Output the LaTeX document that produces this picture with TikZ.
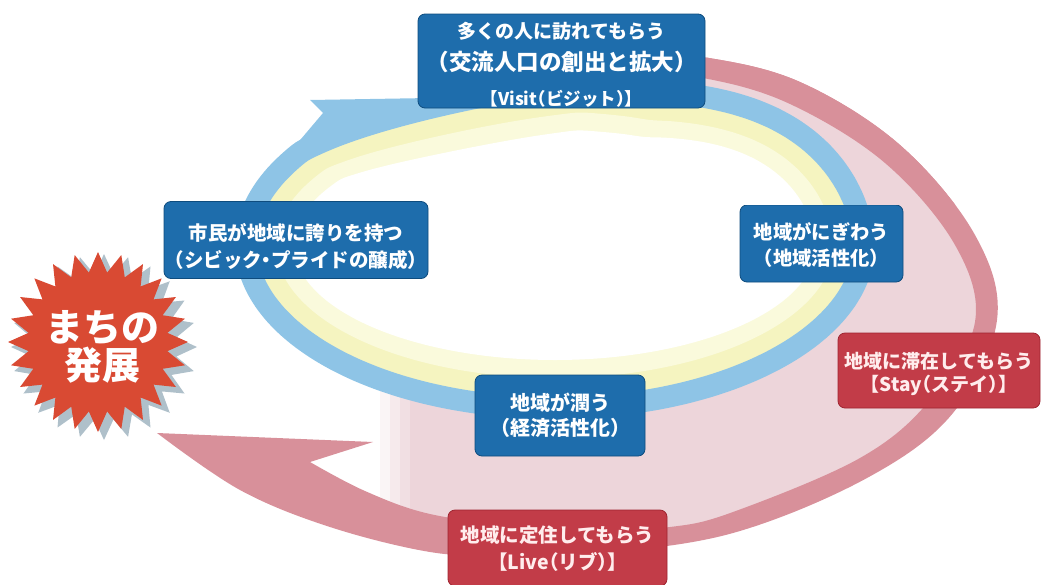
\documentclass[tikz,border=0pt]{standalone}
\usepackage{fontspec}
\setmainfont{Noto Sans CJK JP}[RawFeature=+halt]
\definecolor{bluebandc}{HTML}{8EC4E6}
\definecolor{yellowA}{HTML}{FAFADC}
\definecolor{yellowB}{HTML}{F5F4C0}
\definecolor{palepink}{HTML}{EDD5DA}
\definecolor{redbandc}{HTML}{D8909A}
\definecolor{boxblue}{HTML}{1E6DAC}
\definecolor{boxblueedge}{HTML}{0E4C7E}
\definecolor{boxred}{HTML}{C23C48}
\definecolor{boxrededge}{HTML}{9E2430}
\definecolor{starc}{HTML}{D94A33}
\definecolor{starshadow}{HTML}{AFC0CA}
\newcommand\myring[1]{plot[smooth, domain=0:355, samples=72]
  ({555+(309-#1)*cos(\x)},
   {245+(163-#1)*sin(\x)-12*max(0,cos(3*(\x-320)))*(abs(\x-320)<30)+12*max(0,cos(3*(\x-245)))*(abs(\x-245)<30)}) -- cycle}
\newcommand\mybackdrop{%
  \fill[palepink] (620,62) -- (703,67) -- (800,92) -- (895,155) -- (965,240) -- (985,320)
    -- (942,408) -- (860,470) -- (733,523) -- (600,542) -- (500,545) -- (430,538) -- (410,525)
    -- (410,400) -- (555,250) -- cycle;
  \fill[redbandc] plot[smooth, tension=0.6] coordinates {(620,52) (703,57) (800,82) (900,145) (975,235) (997,320) (953,413) (867,478) (733,533) (600,553) (500,555) (430,552) (330,527) (240,490) (157,433)} -- (373,442) -- (310,462) -- plot[smooth, tension=0.6] coordinates {(310,462) (365,491) (430,514) (520,526) (600,529) (670,527) (733,512) (860,458) (930,400) (975,322) (955,245) (885,163) (790,104) (703,78) (620,72)} -- cycle;
  \fill[yellowB] \myring{0};
  \fill[yellowA] \myring{30};
  \fill[white] \myring{48};
  \draw[bluebandc, line width=22pt, line join=round] \myring{0};}
\begin{document}
\begin{tikzpicture}[x=1pt,y=-1pt,
  bluebox/.style 2 args={rounded corners=7pt, draw=boxblueedge, line width=0.8pt,
    fill=boxblue, minimum width=#1, minimum height=#2, inner sep=0pt},
  redbox/.style 2 args={rounded corners=7pt, draw=boxrededge, line width=0.8pt,
    fill=boxred, minimum width=#1, minimum height=#2, inner sep=0pt},
  txt/.style={text=white, align=center, inner sep=0pt},
  rtxt/.style={text=white!93!red, align=center, inner sep=0pt}]
\useasboundingbox (0,0) rectangle (1043,584);
% pale pink fade at the left end
\fill[palepink!25] (380,388) rectangle (390,530);
\fill[palepink!50] (390,388) rectangle (400,530);
\fill[palepink!75] (400,388) rectangle (410.5,530);
% rings, red outer arrow, blue ring
\mybackdrop
\fill[bluebandc] (290,152) -- (323,113) -- (310,100) -- (430,98) -- (430,118) -- (345,140) -- (300,160) -- cycle;
% boxes
\node[bluebox={287pt}{94pt}] (visit) at (561.5,61) {};
\node[txt, font=\bfseries\fontsize{19}{32}\selectfont] (visit-t) at (561.5,65)
  {多くの人に訪れてもらう\\{\fontsize{22.5}{32}\selectfont （交流人口の創出と拡大）}\\[3pt]{\fontsize{17.5}{32}\selectfont 【Visit（ビジット）】}};
\node[bluebox={264pt}{77pt}] (pride) at (296,240) {};
\node[txt, font=\bfseries\fontsize{19.5}{27}\selectfont] (pride-t) at (296,246.5)
  {市民が地域に誇りを持つ\\（シビック・プライドの醸成）};
\node[bluebox={163pt}{77pt}] (nigi) at (821.5,243.5) {};
\node[txt, font=\bfseries\fontsize{19.3}{26}\selectfont] (nigi-t) at (821.5,245)
  {地域がにぎわう\\（地域活性化）};
\node[bluebox={170pt}{81pt}] (uru) at (560,415.5) {};
\node[txt, font=\bfseries\fontsize{20}{25}\selectfont] (uru-t) at (560,415.5)
  {地域が潤う\\（経済活性化）};
\node[redbox={202pt}{75pt}] (stay) at (939,370.5) {};
\node[rtxt, font=\bfseries\fontsize{19}{23}\selectfont] (stay-t) at (939,373.5)
  {地域に滞在してもらう\\【Stay（ステイ）】};
\node[redbox={219pt}{76pt}] (live) at (557.5,548) {};
\node[rtxt, font=\bfseries\fontsize{19.5}{27}\selectfont] (live-t) at (557.5,548.5)
  {地域に定住してもらう\\【Live（リブ）】};
% starburst
\begin{scope}[shift={(104,347)}]
  \fill[starshadow] (0:93) \foreach \i in {1,...,47} { -- ({\i*7.5}:{mod(\i,2)==0 ? 93 : 73}) } -- cycle;
\end{scope}
\begin{scope}[shift={(98,342)}]
  \fill[starc] (0:90) \foreach \i in {1,...,47} { -- ({\i*7.5}:{mod(\i,2)==0 ? 90 : 70}) } -- cycle;
\end{scope}
\node[txt, font=\bfseries\fontsize{38}{38}\selectfont] (machi) at (102,347) {まちの\\発展};
% repaint the open area right of the top box, above the right box
\begin{scope}
  \clip (706,0) rectangle (1043,204.5);
  \mybackdrop
\end{scope}
\end{tikzpicture}
\end{document}
